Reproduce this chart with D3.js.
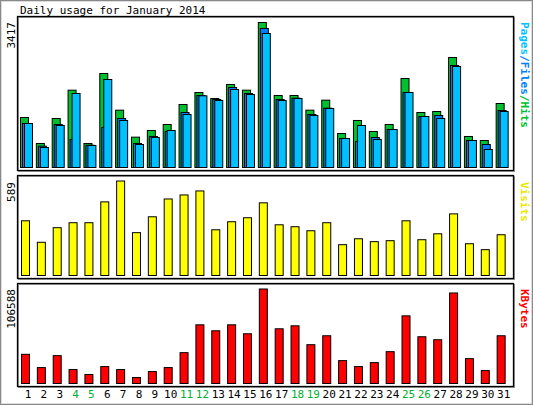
<!DOCTYPE html><html><head><meta charset="utf-8">
<script src="https://cdn.jsdelivr.net/npm/d3@7"></script>
<style>body{margin:0;background:#fff}text{font-family:"DejaVu Sans Mono",monospace}</style></head><body>
<svg id="c" width="533" height="405"></svg>
<script>
const days=d3.range(1,32);
const weekend=[4,5,11,12,18,19,25,26];
const hits=[1178,566,1155,1822,566,2215,1351,715,872,1013,1485,1767,1626,1956,1822,3417,1697,1697,1351,1587,801,1108,848,1013,2097,1296,1320,2592,731,636,1508];
const files=[1037,503,1013,660,526,943,1155,566,731,848,1296,1697,1602,1885,1744,3276,1602,1634,1249,1398,683,613,707,895,1767,1202,1225,2404,636,542,1343];
const pages=[1037,471,990,1744,518,2074,1108,542,707,872,1249,1689,1579,1838,1720,3158,1579,1626,1225,1390,683,990,660,895,1767,1202,1155,2380,636,424,1320];
const visits=[341,207,298,329,329,459,589,267,366,477,502,527,285,335,360,453,316,304,279,329,192,229,211,217,341,223,260,384,198,161,254];
const kbytes=[32912,17952,31416,15708,10098,19074,15708,6732,13464,17952,34782,66198,59466,66198,56100,106588,61710,65076,43758,53856,25806,19074,23562,35904,76296,52734,49368,102102,28050,14586,53856];
const svg=d3.select("#c");
svg.append("rect").attr("x",0.5).attr("y",0.5).attr("width",532).attr("height",404).attr("fill","#fff").attr("stroke","#888");
svg.append("rect").attr("x",1.5).attr("y",1.5).attr("width",530).attr("height",402).attr("fill","none").attr("stroke","#ddd");
svg.append("text").attr("x",20).attr("y",14).attr("font-size",11).text("Daily usage for January 2014");
const x=d3.scaleBand().domain(days).range([20,511.5]).paddingInner(0);
function frame(y0,y1){
  svg.append("rect").attr("x",18.5).attr("y",y0+0.5).attr("width",496).attr("height",y1-y0).attr("fill","none").attr("stroke","#999").attr("stroke-width",1);
  svg.append("rect").attr("x",17.5).attr("y",y0-0.5).attr("width",496).attr("height",y1-y0).attr("fill","none").attr("stroke","#000").attr("stroke-width",1.3);
}
function vlabel(txt,y,pieces){
  svg.append("text").attr("transform",`translate(15,${y}) rotate(-90)`).attr("font-size",11).attr("text-anchor","end").text(txt);
}
function rlabel(y,pieces){
  const t=svg.append("text").attr("transform",`translate(521,${y}) rotate(90)`).attr("font-size",11).attr("font-weight","bold");
  pieces.forEach(p=>t.append("tspan").attr("fill",p[1]).text(p[0]));
}
// top panel
frame(17,171);
const y1=d3.scaleLinear().domain([0,3417]).range([167,22]);
function bars(data,off,col,yS){
  svg.append("g").selectAll("rect").data(data).join("rect")
   .attr("x",(d,i)=>x(days[i])+off+0.5).attr("width",8).attr("y",d=>yS(d)+0.5).attr("height",d=>yS(0)-yS(d))
   .attr("fill",col).attr("stroke","#000").attr("stroke-width",1);
}
bars(hits,0,"#00c030",y1);bars(files,2,"#0080ff",y1);bars(pages,4,"#00c0ff",y1);
vlabel("3417",22);
rlabel(22,[["Pages","#00c0ff"],["/","#0080ff"],["Files","#0080ff"],["/","#00c030"],["Hits","#00c030"]]);
// visits
frame(176,279);
const y2=d3.scaleLinear().domain([0,589]).range([275,180.5]);
bars(visits,1,"#ffff00",y2);
vlabel("589",182);
rlabel(182,[["Visits","#e8e800"]]);
// kbytes
frame(284,387);
const y3=d3.scaleLinear().domain([0,106588]).range([383,288.5]);
bars(kbytes,1,"#ff0000",y3);
vlabel("106588",289);
rlabel(289,[["KBytes","#ff0000"]]);
// day labels
svg.append("g").selectAll("text").data(days).join("text")
 .attr("x",d=>x(d)+8).attr("y",398).attr("text-anchor","middle").attr("font-size",11)
 .attr("fill",d=>weekend.includes(d)?"#00b030":"#000").text(d=>d);
</script></body></html>
